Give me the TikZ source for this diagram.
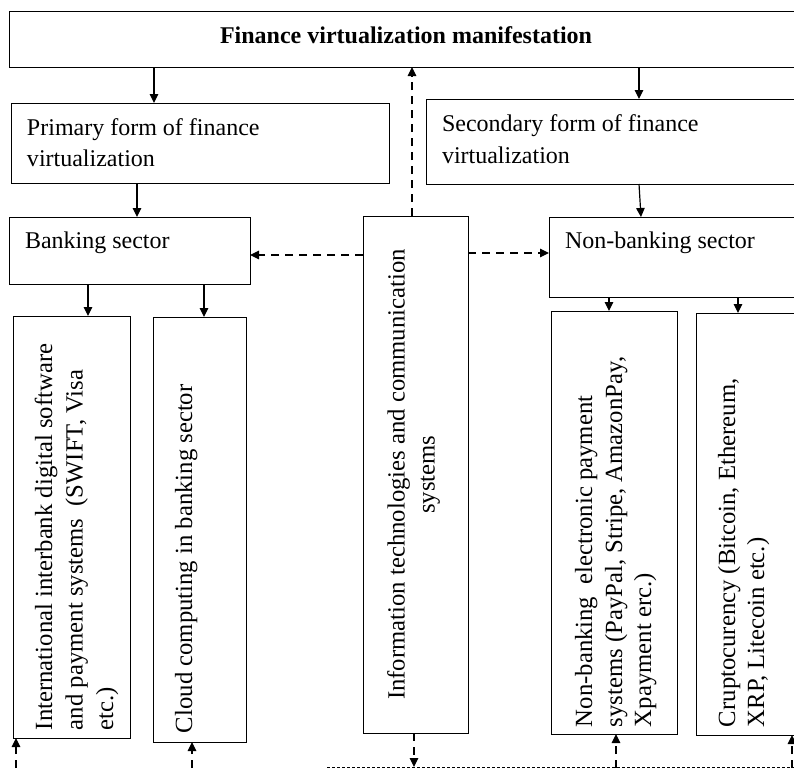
\documentclass[tikz,border=0pt]{standalone}
\usepackage{fontspec}
\setmainfont{Liberation Serif}
\usetikzlibrary{arrows.meta}
\tikzset{
  box/.style={draw, line width=1pt, rectangle, inner sep=0pt, outer sep=0pt, anchor=north west},
  txt/.style={inner sep=0pt, outer sep=0pt, anchor=base west, font=\fontsize{24}{30}\selectfont},
  rtxt/.style={txt, rotate=90, font=\fontsize{24.7}{30}\selectfont},
  arr/.style={line width=1.2pt, -{Triangle[length=9pt,width=8.5pt]}},
  darr/.style={arr, dash pattern=on 8pt off 6pt},
  fine/.style={line width=0.8pt, dash pattern=on 3pt off 2pt},
}
\begin{document}
\begin{tikzpicture}[x=1pt,y=-1pt]
\useasboundingbox (0,0) rectangle (794,769);
\clip (0,0) rectangle (794,769);

% boxes
\node[box, minimum width=821pt, minimum height=56pt] (top) at (9,11) {};
\node[box, minimum width=378pt, minimum height=80pt] (prim) at (11,103) {};
\node[box, minimum width=404pt, minimum height=85pt] (sec) at (426,99) {};
\node[box, minimum width=241pt, minimum height=67pt] (bank) at (9,217) {};
\node[box, minimum width=281pt, minimum height=80pt] (nonb) at (549,217) {};
\node[box, minimum width=105pt, minimum height=517pt] (itc) at (363,216) {};
\node[box, minimum width=117pt, minimum height=422pt] (b1) at (13,316) {};
\node[box, minimum width=93pt, minimum height=425pt] (b2) at (153,317) {};
\node[box, minimum width=126pt, minimum height=423pt] (b3) at (551,311) {};
\node[box, minimum width=134pt, minimum height=422pt] (b4) at (696,313) {};

% texts
\node[txt, anchor=base, font=\bfseries\fontsize{24}{30}\selectfont] (title) at (406,43) {Finance virtualization manifestation};
\node[txt] (primA) at (27,135) {Primary form of finance};
\node[txt] (primB) at (27,166) {virtualization};
\node[txt] (secA) at (442,131) {Secondary form of finance};
\node[txt] (secB) at (442,163) {virtualization};
\node[txt] (bankT) at (25,248) {Banking sector};
\node[txt] (nonbT) at (565,248) {Non-banking sector};
\node[inner sep=0pt, rotate=90, align=center, font=\fontsize{24.7}{30}\selectfont] (itcT) at ([xshift=-2pt]itc.center) {Information technologies and communication\\systems};
\node[rtxt] (b1A) at (52,730) {International interbank digital software};
\node[rtxt] (b1B) at (82.5,730) {and payment systems\ \ (SWIFT, Visa};
\node[rtxt] (b1C) at (113,730) {etc.)};
\node[rtxt] (b2A) at (192,733) {Cloud computing in banking sector};
\node[rtxt] (b3A) at (592,727) {Non-banking\ \ electronic payment};
\node[rtxt] (b3B) at (622,727) {systems (PayPal, Stripe, AmazonPay,};
\node[rtxt] (b3C) at (651,727) {Xpayment erc.)};
\node[rtxt] (b4A) at (735,727) {Cruptocurency (Bitcoin, Ethereum,};
\node[rtxt] (b4B) at (764,727) {XRP, Litecoin etc.)};

% solid arrows
\draw[arr] ([xshift=145pt]top.south west) -- ([xshift=143pt]prim.north west);
\draw[arr] ([xshift=630pt]top.south west) -- ([xshift=213pt]sec.north west);
\draw[arr] ([xshift=126pt]prim.south west) -- ([xshift=128pt]bank.north west);
\draw[arr] ([xshift=213pt]sec.south west) -- ([xshift=92pt]nonb.north west);
\draw[arr] ([xshift=79pt]bank.south west) -- ([xshift=75pt]b1.north west);
\draw[arr] ([xshift=195pt]bank.south west) -- ([xshift=51pt]b2.north west);
\draw[arr] ([xshift=60pt]nonb.south west) -- ([xshift=58pt]b3.north west);
\draw[arr] ([xshift=189pt]nonb.south west) -- ([xshift=42pt]b4.north west);

% dashed arrows from ITC
\draw[darr] ([xshift=49pt]itc.north west) -- ([xshift=403pt]top.south west);
\draw[darr] ([yshift=-39pt]itc.north west) -- ([yshift=-38pt]bank.north east);
\draw[darr] ([yshift=-37pt]itc.north east) -- ([yshift=-36pt]nonb.north west);

% bottom line and arrows
\coordinate (bl) at (327,767);
\coordinate (br) at (800,767);
\coordinate (itcdown) at (414,767);
\coordinate (s1) at (16,782);
\coordinate (s2) at (192,782);
\coordinate (s3) at (616,782);
\coordinate (s4) at (792,782);
\draw[fine] (bl) -- (br);
\draw[darr] ([xshift=51pt]itc.south west) -- (itcdown);
\draw[darr] (s1) -- ([xshift=3pt]b1.south west);
\draw[darr] (s2) -- ([xshift=39pt]b2.south west);
\draw[darr] (s3) -- ([xshift=65pt]b3.south west);
\draw[darr] (s4) -- ([xshift=96pt]b4.south west);
\end{tikzpicture}
\end{document}
